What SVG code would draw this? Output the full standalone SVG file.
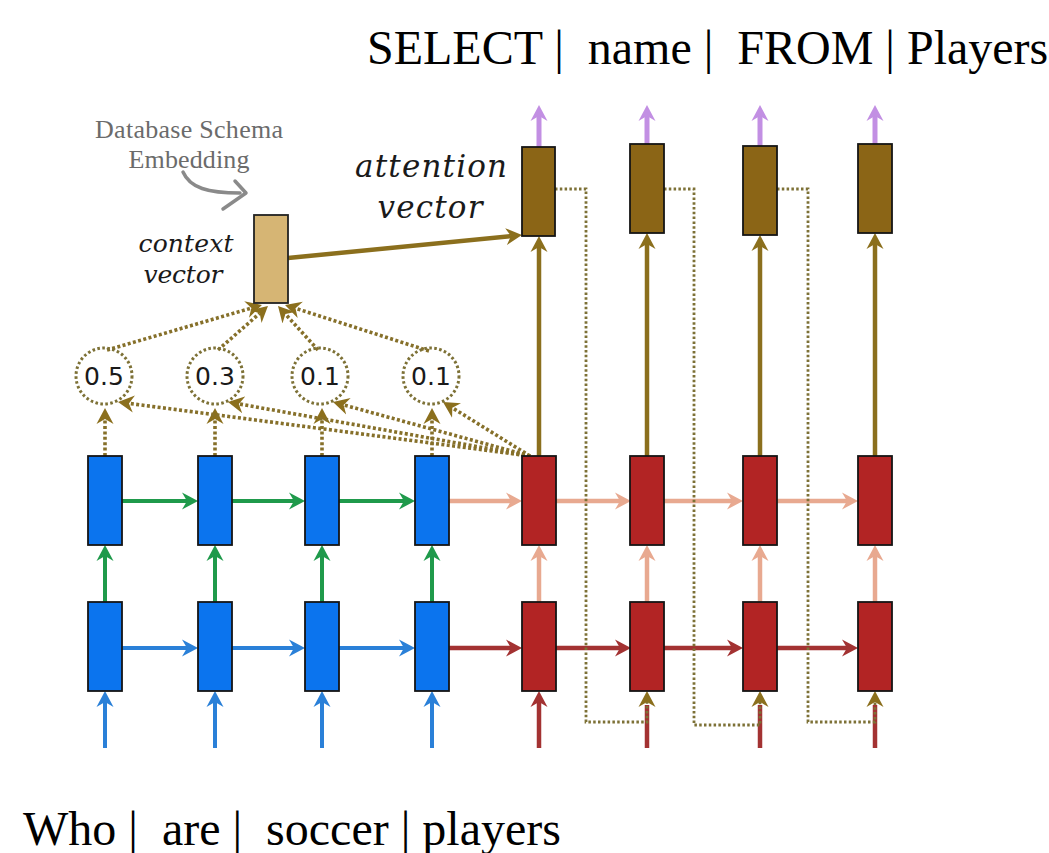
<svg xmlns="http://www.w3.org/2000/svg" width="1049" height="853" viewBox="0 0 1049 853">
  <style>
    .title { font-family: "Liberation Serif", "Times New Roman", serif; font-size: 48px; fill: #000; white-space: pre; }
    .schema { font-family: "Liberation Serif", "Times New Roman", serif; font-size: 26px; fill: #6b6b6b; }
    .label { font-family: "DejaVu Serif", serif; font-style: italic; fill: #1a1a1a; }
    .weight { font-family: "DejaVu Sans", sans-serif; font-size: 25px; fill: #1a1a1a; text-anchor: middle; }
    .enc { fill: #0b74ee; stroke: #151515; stroke-width: 1.8; }
    .dec { fill: #b22424; stroke: #151515; stroke-width: 1.8; }
    .att { fill: #8b6516; stroke: #151515; stroke-width: 1.8; }
    .ctx { fill: #d6b574; stroke: #222; stroke-width: 1.8; }
    .wcircle { fill: none; stroke: #7d7136; stroke-width: 3; stroke-dasharray: 2.6 2.4; }
    .green { stroke: #1f9a4b; stroke-width: 4; fill: none; marker-end: url(#ah-green); }
    .blue { stroke: #2a80d8; stroke-width: 4; fill: none; marker-end: url(#ah-blue); }
    .salmon { stroke: #e8a990; stroke-width: 4.5; fill: none; marker-end: url(#ah-salmon); }
    .dred { stroke: #a33232; stroke-width: 4.5; fill: none; marker-end: url(#ah-dred); }
    .dred-plain { stroke: #a33232; stroke-width: 4.5; fill: none; }
    .olive { stroke: #8b6f1d; stroke-width: 4.5; fill: none; marker-end: url(#ah-olive); }
    .purple { stroke: #c28fe3; stroke-width: 5; fill: none; marker-end: url(#ah-purple); }
    .dots { stroke: #7d7136; stroke-width: 2.8; stroke-dasharray: 2.5 2.3; fill: none; marker-end: url(#ah-olive); }
    .attn-dots { stroke: #86702a; stroke-width: 3.6; stroke-dasharray: 3 2.4; fill: none; marker-end: url(#ah-olive); }
  </style>
  <defs>
    <marker id="ah-green" viewBox="0 -9 16 18" refX="5" refY="0" markerWidth="16" markerHeight="18" orient="auto" markerUnits="userSpaceOnUse"><path d="M0,-8.5 L16,0 L0,8.5 L5,0 Z" fill="#1f9a4b"/></marker>
    <marker id="ah-blue" viewBox="0 -9 16 18" refX="5" refY="0" markerWidth="16" markerHeight="18" orient="auto" markerUnits="userSpaceOnUse"><path d="M0,-8.5 L16,0 L0,8.5 L5,0 Z" fill="#2a80d8"/></marker>
    <marker id="ah-salmon" viewBox="0 -9 16 18" refX="5" refY="0" markerWidth="16" markerHeight="18" orient="auto" markerUnits="userSpaceOnUse"><path d="M0,-8.5 L16,0 L0,8.5 L5,0 Z" fill="#e8a990"/></marker>
    <marker id="ah-dred" viewBox="0 -9 16 18" refX="5" refY="0" markerWidth="16" markerHeight="18" orient="auto" markerUnits="userSpaceOnUse"><path d="M0,-8.5 L16,0 L0,8.5 L5,0 Z" fill="#a33232"/></marker>
    <marker id="ah-olive" viewBox="0 -9 16 18" refX="5" refY="0" markerWidth="16" markerHeight="18" orient="auto" markerUnits="userSpaceOnUse"><path d="M0,-8.5 L16,0 L0,8.5 L5,0 Z" fill="#8b6f1d"/></marker>
    <marker id="ah-purple" viewBox="0 -9 16 18" refX="5" refY="0" markerWidth="16" markerHeight="18" orient="auto" markerUnits="userSpaceOnUse"><path d="M0,-8.5 L16,0 L0,8.5 L5,0 Z" fill="#c28fe3"/></marker>
  </defs>

  <rect x="0" y="0" width="1049" height="853" fill="#fff"/>

  <!-- connectors -->
  <g id="connectors">
    <!-- encoder inputs -->
    <line class="blue" x1="105" y1="748" x2="105" y2="702"/>
    <line class="blue" x1="215" y1="748" x2="215" y2="702"/>
    <line class="blue" x1="322" y1="748" x2="322" y2="702"/>
    <line class="blue" x1="432" y1="748" x2="432" y2="702"/>
    <!-- decoder inputs -->
    <line class="dred" x1="539" y1="748" x2="539" y2="702"/>
    <line class="dred-plain" x1="647" y1="748" x2="647" y2="705"/>
    <line class="dred-plain" x1="760" y1="748" x2="760" y2="705"/>
    <line class="dred-plain" x1="875" y1="748" x2="875" y2="705"/>

    <!-- bottom layer recurrence -->
    <line class="blue" x1="122" y1="648" x2="187" y2="648"/>
    <line class="blue" x1="232" y1="648" x2="294" y2="648"/>
    <line class="blue" x1="339" y1="648" x2="404" y2="648"/>
    <line class="dred" x1="449" y1="648" x2="511" y2="648"/>
    <line class="dred" x1="556" y1="648" x2="620" y2="648"/>
    <line class="dred" x1="664" y1="648" x2="732" y2="648"/>
    <line class="dred" x1="777" y1="648" x2="847" y2="648"/>

    <!-- layer to layer -->
    <line class="green" x1="105" y1="602" x2="105" y2="556"/>
    <line class="green" x1="215" y1="602" x2="215" y2="556"/>
    <line class="green" x1="322" y1="602" x2="322" y2="556"/>
    <line class="green" x1="432" y1="602" x2="432" y2="556"/>
    <line class="salmon" x1="539" y1="602" x2="539" y2="556"/>
    <line class="salmon" x1="647" y1="602" x2="647" y2="556"/>
    <line class="salmon" x1="760" y1="602" x2="760" y2="556"/>
    <line class="salmon" x1="875" y1="602" x2="875" y2="556"/>

    <!-- top layer recurrence -->
    <line class="green" x1="122" y1="501" x2="187" y2="501"/>
    <line class="green" x1="232" y1="501" x2="294" y2="501"/>
    <line class="green" x1="339" y1="501" x2="404" y2="501"/>
    <line class="salmon" x1="449" y1="501" x2="511" y2="501"/>
    <line class="salmon" x1="556" y1="501" x2="620" y2="501"/>
    <line class="salmon" x1="664" y1="501" x2="732" y2="501"/>
    <line class="salmon" x1="777" y1="501" x2="847" y2="501"/>

    <!-- decoder top to attention vectors -->
    <line class="olive" x1="539" y1="456" x2="539" y2="247"/>
    <line class="olive" x1="647" y1="456" x2="647" y2="244"/>
    <line class="olive" x1="760" y1="456" x2="760" y2="246"/>
    <line class="olive" x1="875" y1="456" x2="875" y2="244"/>

    <!-- outputs -->
    <line class="purple" x1="539" y1="147" x2="539" y2="116"/>
    <line class="purple" x1="647" y1="144" x2="647" y2="116"/>
    <line class="purple" x1="760" y1="146" x2="760" y2="116"/>
    <line class="purple" x1="875" y1="144" x2="875" y2="116"/>

    <!-- input feeding -->
    <path class="dots" d="M555,189 H586 V722 H647 V702"/>
    <path class="dots" d="M664,189 H694 V725 H760 V702"/>
    <path class="dots" d="M777,189 H808 V722 H875 V702"/>

    <!-- encoder states to weights -->
    <line class="attn-dots" x1="105" y1="456" x2="105" y2="419"/>
    <line class="attn-dots" x1="215" y1="456" x2="215" y2="419"/>
    <line class="attn-dots" x1="322" y1="456" x2="322" y2="419"/>
    <line class="attn-dots" x1="432" y1="456" x2="432" y2="419"/>

    <!-- decoder state to weights -->
    <line class="attn-dots" x1="530" y1="456" x2="128.9" y2="403.4"/>
    <line class="attn-dots" x1="530" y1="456" x2="238.8" y2="403.9"/>
    <line class="attn-dots" x1="530" y1="456" x2="343.6" y2="404.9"/>
    <line class="attn-dots" x1="530" y1="456" x2="452.3" y2="407.8"/>

    <!-- weights to context vector -->
    <line class="attn-dots" x1="107" y1="350" x2="251.4" y2="308.1"/>
    <line class="attn-dots" x1="218" y1="350" x2="259.7" y2="313.3"/>
    <line class="attn-dots" x1="318" y1="350" x2="285.4" y2="314.1"/>
    <line class="attn-dots" x1="429" y1="351" x2="295.5" y2="308.3"/>

    <!-- context vector to attention vector -->
    <line class="olive" x1="288" y1="258" x2="511" y2="236.1"/>

    <!-- schema embedding pointer -->
    <path d="M183,172 C190,188 208,193 240,193" fill="none" stroke="#8a8a8a" stroke-width="3.5" stroke-linecap="round"/>
    <path d="M235,181 L246,193 L223,209" fill="none" stroke="#8a8a8a" stroke-width="3.5" stroke-linecap="round" stroke-linejoin="round"/>
  </g>

  <!-- encoder, bottom layer -->
  <g id="enc-b1"><rect class="enc" x="88" y="602" width="34" height="89"/></g>
  <g id="enc-b2"><rect class="enc" x="198" y="602" width="34" height="89"/></g>
  <g id="enc-b3"><rect class="enc" x="305" y="602" width="34" height="89"/></g>
  <g id="enc-b4"><rect class="enc" x="415" y="602" width="34" height="89"/></g>
  <!-- encoder, top layer -->
  <g id="enc-t1"><rect class="enc" x="88" y="456" width="34" height="89"/></g>
  <g id="enc-t2"><rect class="enc" x="198" y="456" width="34" height="89"/></g>
  <g id="enc-t3"><rect class="enc" x="305" y="456" width="34" height="89"/></g>
  <g id="enc-t4"><rect class="enc" x="415" y="456" width="34" height="89"/></g>

  <!-- decoder, bottom layer -->
  <g id="dec-b1"><rect class="dec" x="522" y="602" width="34" height="89"/></g>
  <g id="dec-b2"><rect class="dec" x="630" y="602" width="34" height="89"/></g>
  <g id="dec-b3"><rect class="dec" x="743" y="602" width="34" height="89"/></g>
  <g id="dec-b4"><rect class="dec" x="858" y="602" width="34" height="89"/></g>
  <!-- decoder, top layer -->
  <g id="dec-t1"><rect class="dec" x="522" y="456" width="34" height="89"/></g>
  <g id="dec-t2"><rect class="dec" x="630" y="456" width="34" height="89"/></g>
  <g id="dec-t3"><rect class="dec" x="743" y="456" width="34" height="89"/></g>
  <g id="dec-t4"><rect class="dec" x="858" y="456" width="34" height="89"/></g>

  <!-- attention vectors -->
  <g id="att-1"><rect class="att" x="522" y="147" width="33" height="89"/></g>
  <g id="att-2"><rect class="att" x="630" y="144" width="34" height="89"/></g>
  <g id="att-3"><rect class="att" x="743" y="146" width="34" height="89"/></g>
  <g id="att-4"><rect class="att" x="858" y="144" width="34" height="89"/></g>

  <!-- attention weights -->
  <g id="w1"><circle class="wcircle" cx="104" cy="376" r="28"/><text class="weight" x="104" y="385">0.5</text></g>
  <g id="w2"><circle class="wcircle" cx="215" cy="376" r="28"/><text class="weight" x="215" y="385">0.3</text></g>
  <g id="w3"><circle class="wcircle" cx="320" cy="376" r="28"/><text class="weight" x="320" y="385">0.1</text></g>
  <g id="w4"><circle class="wcircle" cx="431" cy="376" r="28"/><text class="weight" x="431" y="385">0.1</text></g>

  <!-- context vector -->
  <g id="context">
    <rect class="ctx" x="254" y="215" width="34" height="88"/>
    <text class="label" x="186" y="252" font-size="25" text-anchor="middle" textLength="95">context</text>
    <text class="label" x="183" y="283" font-size="25" text-anchor="middle" textLength="79">vector</text>
  </g>

  <!-- schema embedding label -->
  <g id="schema">
    <text class="schema" x="189" y="138" text-anchor="middle" textLength="188">Database Schema</text>
    <text class="schema" x="189" y="168" text-anchor="middle" textLength="121">Embedding</text>
  </g>

  <!-- attention vector label -->
  <g id="attention-label">
    <text class="label" x="431" y="177" font-size="31" text-anchor="middle" textLength="152">attention</text>
    <text class="label" x="430" y="218" font-size="31" text-anchor="middle" textLength="105">vector</text>
  </g>

  <!-- token sequences -->
  <g id="output-tokens"><text class="title" x="367" y="64">SELECT |  name |  FROM | Players</text></g>
  <g id="input-tokens"><text class="title" x="23" y="845">Who |  are |  soccer | players</text></g>
</svg>
